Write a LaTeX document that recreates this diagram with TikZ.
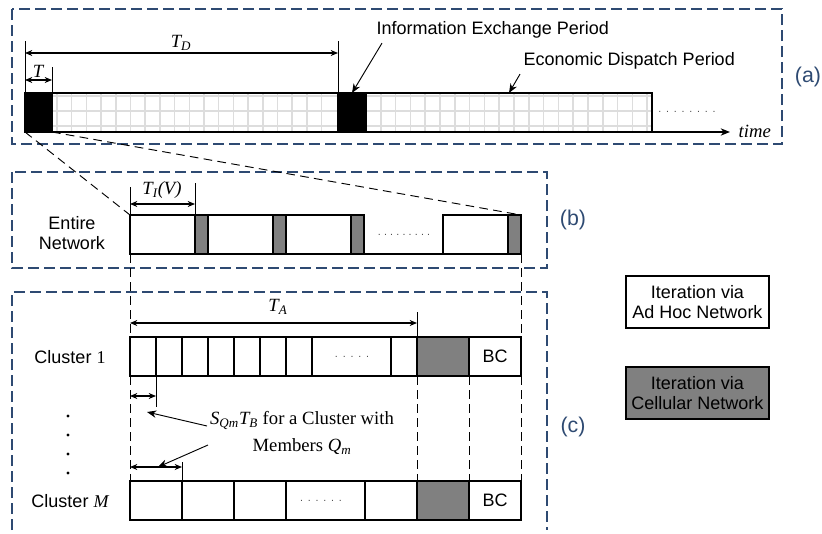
\documentclass[tikz,border=0pt]{standalone}
\usepackage{fontspec}
\setmainfont{Liberation Sans}
\newfontfamily\tnr{Liberation Serif}
\usetikzlibrary{calc,arrows.meta}

\definecolor{framenavy}{HTML}{2E4A72}
\definecolor{itergray}{HTML}{808080}
\definecolor{gridgray}{HTML}{DDDDDD}

\newcommand\tvar[1]{{\tnr\itshape #1}}
\newcommand\dotrun[2]{\foreach \k in {1,...,#1}{.\hspace{#2}}}

\tikzset{
    slot/.style 2 args={draw, line width=0.9pt, inner sep=0pt, outer sep=0pt,
        minimum width=#1*0.75pt, minimum height=#2*0.75pt},
    panel/.style={framenavy, line width=0.9pt, dash pattern=on 8pt off 4pt},
    guide/.style={line width=0.7pt, dash pattern=on 6.5pt off 4pt},
    dim/.style={{Stealth[length=5.5pt,width=4.5pt]}-{Stealth[length=5.5pt,width=4.5pt]}, line width=0.8pt},
    pointer/.style={-{Stealth[length=7pt,width=5.5pt]}, line width=0.7pt},
    paneltag/.style={text=framenavy, font=\fontsize{16}{18}\selectfont},
    serif/.style={font=\tnr\fontsize{14}{20}\selectfont},
    gridline/.style={gridgray, line width=1.1pt},
    dotted row/.style={font=\fontsize{8}{8}\selectfont, text=black!70},
}

\begin{document}
\begin{tikzpicture}[x=0.75pt, y=-0.75pt, font=\fontsize{13.5}{15}\selectfont]
    \useasboundingbox (0,0) rectangle (822,533);

    % (a) time line of the dispatch
    \draw[panel] (12,9) rectangle (782,144);
    \node[paneltag] (taga) at (808,77) {(a)};

    \foreach \y in {96,111,126} {
        \draw[gridline] (52,\y) -- (338,\y);
        \draw[gridline] (366,\y) -- (652,\y);
    }
    \foreach \x in {57,71.7,...,330} \draw[gridline] (\x,93) -- (\x,132);
    \foreach \x in {380.8,395.6,...,650} \draw[gridline] (\x,93) -- (\x,132);

    \node[slot={286}{39}] (ed1) at (195,112.5) {};
    \node[slot={286}{39}] (ed2) at (509,112.5) {};
    \node[slot={27}{39}, fill=black] (ie1) at (38.5,112.5) {};
    \node[slot={28}{39}, fill=black] (ie2) at (352,112.5) {};

    \coordinate (tend) at (730,132);
    \draw[pointer, line width=0.9pt] (ie1.south west) -- (tend);
    \node[serif, anchor=west] (time) at (734,131) {\itshape time};
    \node[dotted row] (more) at (687,112) {\dotrun{8}{3.6pt}};

    \coordinate (tdl) at (25,41);
    \coordinate (tdr) at (338,41);
    \draw[line width=0.7pt] (ie1.north west) -- (tdl);
    \draw[line width=0.7pt] (ie2.north west) -- (tdr);
    \draw[dim] ($(tdl)+(0,12)$) -- ($(tdr)+(0,12)$);
    \node[serif] (td) at (181,43) {\tvar{T\textsubscript{D}}};

    \coordinate (tl) at (52,67);
    \draw[line width=0.7pt] (ie1.north east) -- (tl);
    \draw[dim] ($(ie1.north west)+(0,-13)$) -- ($(ie1.north east)+(0,-13)$);
    \node[serif] (t) at (38,71) {\tvar{T}};

    \node[anchor=west] (iep) at (372,30) {Information Exchange Period};
    \draw[pointer] ($(iep.south west)+(10,0)$) -- (ie2.north);
    \node[anchor=west] (edp) at (519,61) {Economic Dispatch Period};
    \draw[pointer] ($(edp.south west)+(1,0)$) -- (ed2.north);

    % (b) the whole network
    \draw[panel] (12,172) rectangle (547,268);
    \node[paneltag] (tagb) at (573,220) {(b)};
    \node[align=center] (net) at (72,233) {Entire\\Network};

    \draw[line width=0.9pt] (130,254) -- (521,254);
    \foreach \x/\n in {130/1,208/2,286/3,443/4}
        \node[slot={65}{39}, anchor=north west] (w\n) at (\x,215) {};
    \foreach \x/\n in {195/1,273/2,351/3,508/4}
        \node[slot={13}{39}, anchor=north west, fill=itergray] (g\n) at (\x,215) {};
    \node[dotted row] (bdots) at (404,235) {\dotrun{9}{2.4pt}};

    \coordinate (til) at (130,187);
    \coordinate (tir) at (195,183);
    \draw[line width=0.7pt] (w1.north west) -- (til);
    \draw[line width=0.7pt] (g1.north west) -- (tir);
    \draw[dim] ($(w1.north west)+(0,-11)$) -- ($(w1.north east)+(0,-11)$);
    \node[serif] (ti) at (162,190) {\tvar{T\textsubscript{I}(V)}};

    \draw[guide] (ie1.south west) -- (w1.north west);
    \draw[guide] (ie1.south east) -- (g4.north east);

    % (c) clusters
    \draw[panel] (12,530) -- (12,292) -- (547,292) -- (547,530);
    \node[paneltag] (tagc) at (573,427) {(c)};

    \node (c1) at (70,357) {Cluster {\tnr 1}};
    \node (cm) at (70,501) {Cluster \tvar{M}};
    \foreach \y in {416,435,454,473} \fill (68,\y) circle (1.6);

    \draw[line width=0.9pt] (130,337) -- (417,337) (130,376) -- (417,376);
    \foreach \x [count=\i] in {130,156,...,290}
        \node[slot={26}{39}, anchor=north west] (a\i) at (\x,337) {};
    \node[slot={26}{39}, anchor=north west] (alast) at (391,337) {};
    \node[slot={52}{39}, anchor=north west, fill=itergray] (acell) at (417,337) {};
    \node[slot={52}{39}, anchor=north west] (abc) at (469,337) {BC};
    \node[dotted row] (adots) at (352,357) {\dotrun{5}{3.6pt}};

    \draw[line width=0.9pt] (130,481) -- (417,481) (130,520) -- (417,520);
    \foreach \x [count=\i] in {130,182,234}
        \node[slot={52}{39}, anchor=north west] (m\i) at (\x,481) {};
    \node[slot={52}{39}, anchor=north west] (mlast) at (365,481) {};
    \node[slot={52}{39}, anchor=north west, fill=itergray] (mcell) at (417,481) {};
    \node[slot={52}{39}, anchor=north west] (mbc) at (469,481) {BC};
    \node[dotted row] (mdots) at (321,501) {\dotrun{6}{3.6pt}};

    \coordinate (tar) at (417,312);
    \draw[line width=0.7pt] (alast.north east) -- (tar);
    \draw[dim] ($(a1.north west)+(0,-14)$) -- ($(alast.north east)+(0,-14)$);
    \node[serif] (ta) at (278,307) {\tvar{T\textsubscript{A}}};

    % dashed guides between the rows
    \draw[guide] (w1.south west) -- (a1.north west);
    \draw[guide] (g4.south east) -- (abc.north east);
    \draw[guide] (a1.south west) -- (m1.north west);
    \draw[guide] (acell.south west) -- (mcell.north west);
    \draw[guide] (abc.south west) -- (mbc.north west);
    \draw[guide] (abc.south east) -- (mbc.north east);

    \coordinate (s1) at (156,407);
    \draw[line width=0.7pt] (a1.south east) -- (s1);
    \draw[dim] ($(a1.south west)+(0,20)$) -- ($(a1.south east)+(0,20)$);
    \coordinate (s2) at (182,462);
    \draw[line width=0.7pt] (m1.north east) -- (s2);
    \draw[dim] ($(m1.north west)+(0,-14)$) -- ($(m1.north east)+(0,-14)$);

    \node[serif, align=center] (note) at (302,433)
        {\tvar{S\textsubscript{Qm}T\textsubscript{B}} for a Cluster with\\Members \tvar{Q\textsubscript{m}}};
    \coordinate (n1) at (207,426);
    \coordinate (n2) at (208,445);
    \draw[pointer] (n1) -- (147,412) coordinate (p1);
    \draw[pointer] (n2) -- (158,467) coordinate (p2);

    % legend
    \node[slot={143}{52}, align=center] (adhoc) at (697.5,302) {Iteration via\\Ad Hoc Network};
    \node[slot={143}{52}, align=center, fill=itergray] (cellular) at (697.5,393) {Iteration via\\Cellular Network};
\end{tikzpicture}
\end{document}
